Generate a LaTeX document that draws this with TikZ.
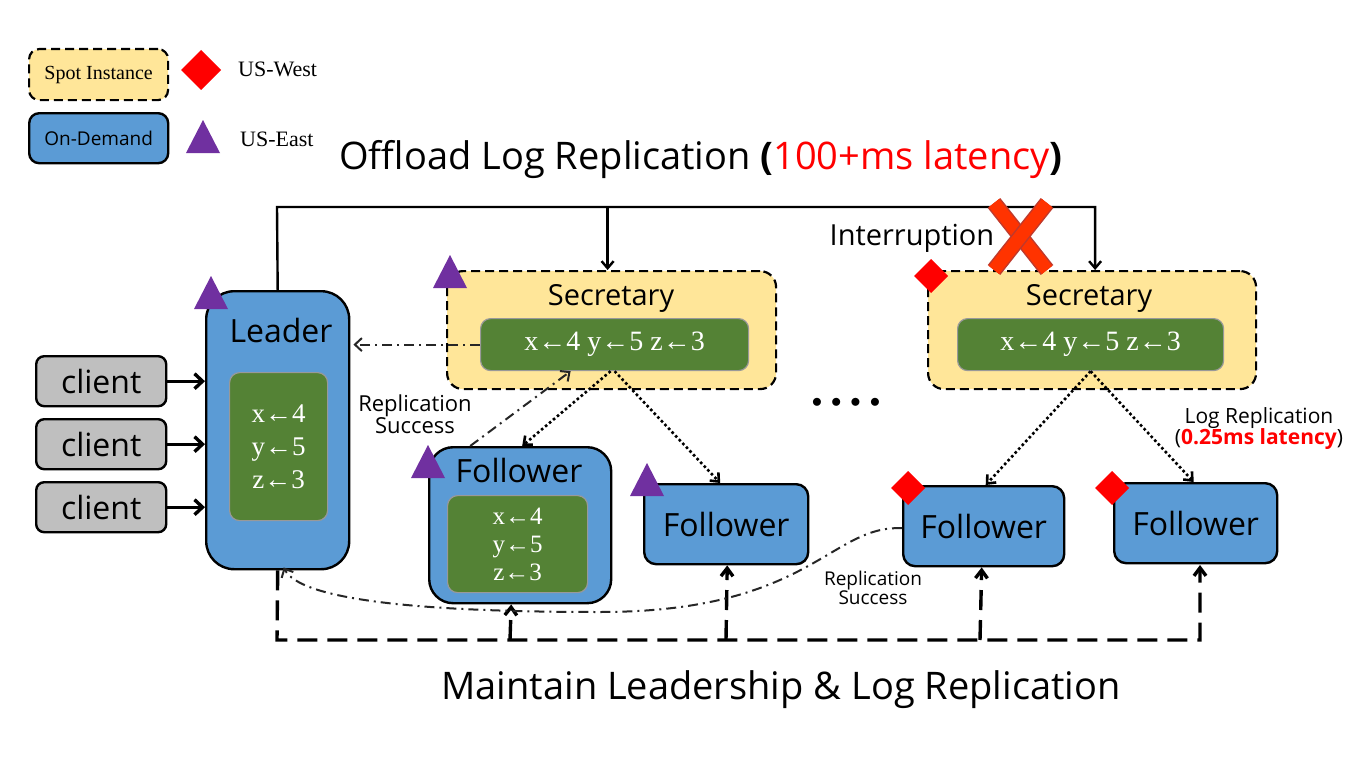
\documentclass[tikz,border=0pt]{standalone}
\usepackage{fontspec}
\setmainfont{Liberation Serif}
\setsansfont{Open Sans}
\usetikzlibrary{arrows.meta,shapes.geometric}
\definecolor{cblue}{HTML}{5B9BD5}
\definecolor{cgreen}{HTML}{548235}
\definecolor{cyellow}{HTML}{FFE699}
\definecolor{cgray}{HTML}{BFBFBF}
\definecolor{cpurple}{HTML}{7030A0}
\definecolor{xred}{HTML}{FF3300}
\definecolor{xdark}{HTML}{C0392B}
\newcommand{\fs}[1]{\fontsize{#1}{#1}\selectfont}
\newcommand{\la}{←}
\begin{document}
\begin{tikzpicture}[x=1pt,y=-1pt,
  blueBox/.style={draw=black, line width=2.4pt, fill=cblue, inner sep=0pt, anchor=north west},
  spotBox/.style={draw=black, line width=2.2pt, dash pattern=on 9pt off 5pt, fill=cyellow, inner sep=0pt, anchor=north west, rounded corners=16pt},
  greenBox/.style={draw=gray!80, line width=1.2pt, fill=cgreen, inner sep=0pt, anchor=north west, rounded corners=10pt},
  clientBox/.style={draw=black, line width=2.4pt, fill=cgray, inner sep=0pt, anchor=north west, rounded corners=8pt, minimum width=130pt, minimum height=50pt, font=\sffamily\fs{32}},
  lbl/.style={inner sep=0pt, font=\sffamily\fs{32}},
  glog/.style={inner sep=0pt, text=white, font=\fs{27}, align=center},
  solidArrow/.style={line width=2.4pt, -{Straight Barb[length=7pt,width=12pt]}},
  clientArrow/.style={line width=3.4pt, -{Straight Barb[length=8pt,width=15pt]}},
  dotArrow/.style={line width=2.6pt, dash pattern=on 2.6pt off 2.6pt, -{Straight Barb[length=7pt,width=12pt]}},
  dashArrow/.style={line width=3.4pt, dash pattern=on 20pt off 10pt, -{Straight Barb[length=8pt,width=12pt]}},
  ddArrow/.style={line width=2pt, draw=black!85, dash pattern=on 10pt off 5pt on 2pt off 5pt, -{Straight Barb[length=7pt,width=13pt]}},
  ptri/.pic={\fill[cpurple] (-17,16)--(17,16)--(0,-17)--cycle;},
  rdia/.pic={\fill[red] (-17,0)--(0,-17)--(17,0)--(0,17)--cycle;}
]
\useasboundingbox[fill=white] (0,0) rectangle (1366,768);

% legend
\node[spotBox, minimum width=139pt, minimum height=51pt, rounded corners=10pt] (legspot) at (28,48) {};
\node[inner sep=0pt, font=\fs{20}] (legspott) at (legspot.center) {Spot Instance};
\node[blueBox, rounded corners=10pt, minimum width=139pt, minimum height=50pt] (legod) at (28,112) {};
\node[inner sep=0pt, font=\sffamily\fs{19}] (legodt) at (legod.center) {On-Demand};
\fill[red] (181,70)--(201,50)--(221,70)--(201,90)--cycle;
\node[inner sep=0pt, anchor=west, font=\fs{22}] (legw) at (238,69) {US-West};
\fill[cpurple] (186,153)--(220,153)--(203,120)--cycle;
\node[inner sep=0pt, anchor=west, font=\fs{22}] (lege) at (240,139) {US-East};

% title
\node[inner sep=0pt, font=\sffamily\fs{38}] (title) at (701,160) {Offload Log Replication \textbf{(}\textcolor{red}{100+ms latency}\textbf{)}};
\node[inner sep=0pt, font=\sffamily\fs{38}] (bottom) at (781,690) {Maintain Leadership \& Log Replication};

% clients
\node[clientBox] (c1) at (35,355) {client};
\node[clientBox] (c2) at (35,418) {client};
\node[clientBox] (c3) at (35,481) {client};

% leader
\node[blueBox, rounded corners=28pt, minimum width=143pt, minimum height=278pt] (leader) at (205,290) {};
\node[lbl] (leadert) at (281,330) {Leader};
\node[greenBox, minimum width=98pt, minimum height=148pt] (lg) at (229,372) {};
\node[glog] (lgt) at (lg.center) {x\la4\\[6pt]y\la5\\[6pt]z\la3};
\pic at (211,293) {ptri};

\draw[clientArrow] (c1.east) -- (leader.west |- c1.east);
\draw[clientArrow] (c2.east) -- (leader.west |- c2.east);
\draw[clientArrow] (c3.east) -- (leader.west |- c3.east);

% secretaries
\node[spotBox, minimum width=329pt, minimum height=118pt] (sec1) at (446,270) {};
\node[lbl, font=\sffamily\fs{29}] (sec1t) at (611,298) {Secretary};
\node[greenBox, minimum width=268pt, minimum height=52pt] (g1) at (480,318) {};
\node[glog, font=\fs{28}] (g1t) at (g1.center) {x\la4 y\la5 z\la3};
\pic at (450,272) {ptri};

\node[spotBox, minimum width=328pt, minimum height=118pt] (sec2) at (927,270) {};
\node[lbl, font=\sffamily\fs{29}] (sec2t) at (1089,298) {Secretary};
\node[greenBox, minimum width=266pt, minimum height=52pt] (g2) at (957,318) {};
\node[glog, font=\fs{28}] (g2t) at (g2.center) {x\la4 y\la5 z\la3};
\pic at (931,276) {rdia};

% followers
\node[blueBox, rounded corners=24pt, minimum width=182pt, minimum height=156pt] (f1) at (428,446) {};
\node[lbl] (f1t) at (519,470) {Follower};
\node[greenBox, minimum width=140pt, minimum height=97pt] (f1g) at (447,495) {};
\node[glog, font=\fs{25}] (f1gt) at (f1g.center) {x\la4\\[3pt]y\la5\\[3pt]z\la3};
\pic at (428,462) {ptri};

\node[blueBox, rounded corners=12pt, minimum width=164pt, minimum height=80pt] (f2) at (643,483) {};
\node[lbl] (f2t) at (f2.center) {Follower};
\pic at (647,480) {ptri};

\node[blueBox, rounded corners=12pt, minimum width=161pt, minimum height=80pt] (f3) at (902,485) {};
\node[lbl] (f3t) at (f3.center) {Follower};
\pic at (908,488) {rdia};

\node[blueBox, rounded corners=12pt, minimum width=163pt, minimum height=80pt] (f4) at (1113,482) {};
\node[lbl] (f4t) at (f4.center) {Follower};
\pic at (1112,488) {rdia};

% top line
\coordinate (tl) at (277,207);
\draw[solidArrow] (leader.north) -- (tl) -| ([xshift=3pt]sec2.north);
\draw[solidArrow] ([xshift=-4pt]sec1.north |- tl) -- ([xshift=-4pt]sec1.north);

% interruption
\node[inner sep=0pt, font=\sffamily\fs{29}] (intr) at (912,238) {Interruption};
\draw[line width=16pt, draw=xdark] (994,203) -- (1047,270);
\draw[line width=13pt, draw=xred] (994,203) -- (1047,270);
\draw[line width=16pt, draw=xdark] (1047,203) -- (994,270);
\draw[line width=13pt, draw=xred] (1047,203) -- (994,270);

% secretary -> leader
\draw[ddArrow] (g1.west) -- ([xshift=3pt]leader.east |- g1.west);

% sec1 dotted
\draw[dotArrow] ([xshift=-4pt]g1.south) -- ([xshift=2pt]f1.north);
\draw[dotArrow] ([xshift=0pt]g1.south) -- ([xshift=-6pt]f2.north);
\draw[ddArrow] ([xshift=-50pt]f1.north) -- ([xshift=-44pt]g1.south);
\node[inner sep=0pt, font=\sffamily\fs{22}, align=center] (rs1) at (415,414) {Replication\\Success};

% dots
\node[inner sep=0pt, font=\fs{20}] (dots) at (846,403) {$\bullet$\hspace{9pt}$\bullet$\hspace{9pt}$\bullet$\hspace{9pt}$\bullet$};

% sec2 dotted
\draw[dotArrow] (g2.south) -- ([xshift=2pt]f3.north);
\draw[dotArrow] (g2.south) -- ([xshift=-2pt]f4.north);
\node[inner sep=0pt, font=\sffamily\fs{21}, align=center] (lr) at (1259,429) {Log Replication\\(\textcolor{red}{\textbf{0.25ms latency}})};

% bottom dashed
\coordinate (bl) at (277,640);
\draw[dashArrow] (leader.south) -- (bl) -- (1200,640) -- (1200,565);
\draw[dashArrow] (510,640) -- ([xshift=-9pt]f1.south);
\draw[dashArrow] (726,640) -- ([xshift=1pt]f2.south);
\draw[dashArrow] (980,640) -- ([xshift=-2pt]f3.south);

% replication success curve
\draw[ddArrow] ([yshift=-2pt]f3.west) .. controls (830,525) and (810,612) .. (600,612) .. controls (420,612) and (300,600) .. ([xshift=6pt,yshift=3pt]leader.south);
\node[inner sep=1pt, fill=white, font=\sffamily\fs{19}, align=center] (rs2) at (873,588) {Replication\\Success};
\end{tikzpicture}
\end{document}
